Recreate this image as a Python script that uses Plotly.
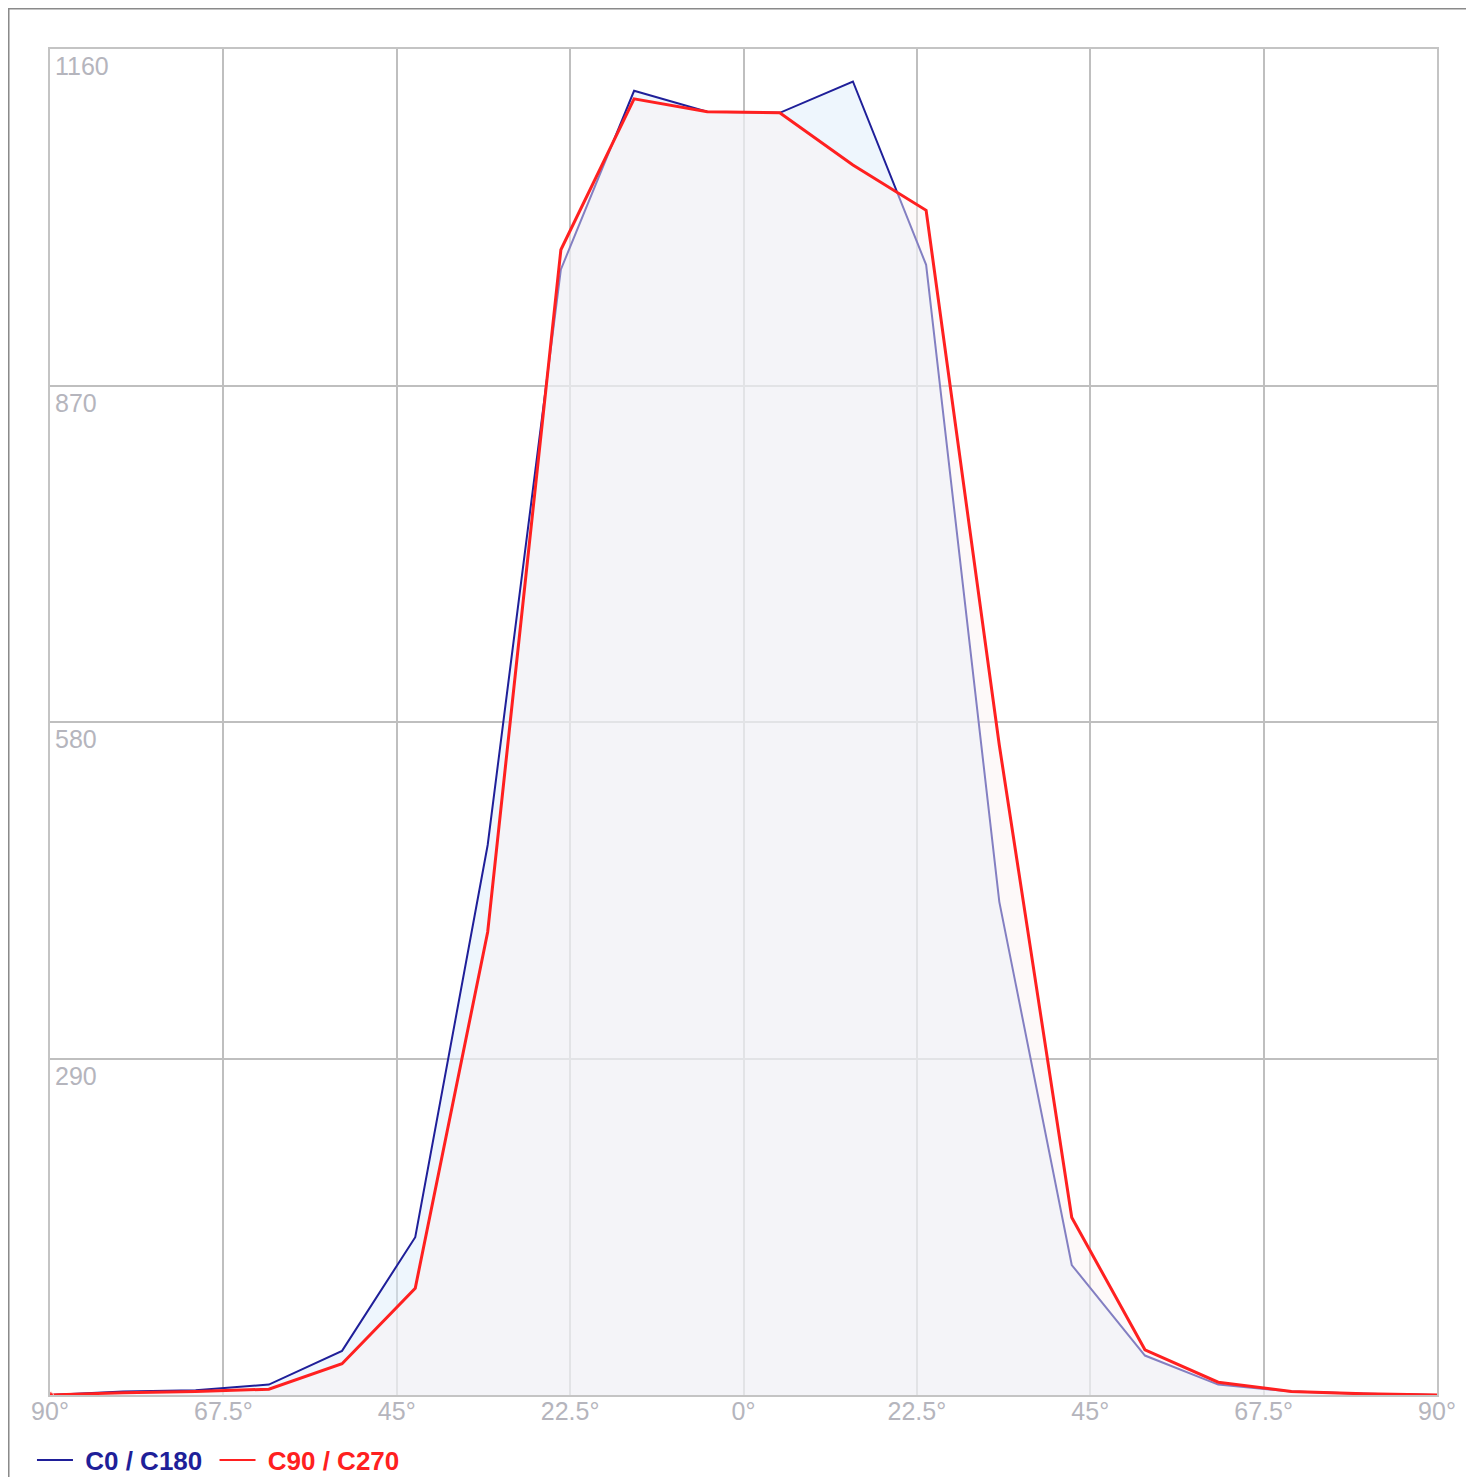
import plotly.graph_objects as go

# Angles (degrees, -90 .. 90) at which the intensity is sampled
angles = [-90.0, -80.5, -71.1, -61.6, -52.1, -42.6, -33.2, -23.7, -14.2, -4.7,
          4.7, 14.2, 23.7, 33.2, 42.6, 52.1, 61.6, 71.1, 80.5, 90.0]

c0_c180 = [0, 3, 4, 9, 38, 136, 474, 970, 1124, 1106,
           1105, 1132, 974, 425, 112, 34, 9, 3, 1, 0]
c90_c270 = [0, 2, 3, 5, 27, 92, 399, 987, 1117, 1106,
            1105, 1060, 1021, 560, 153, 39, 11, 3, 1, 0]

x_tick_vals = [-90, -67.5, -45, -22.5, 0, 22.5, 45, 67.5, 90]
x_tick_text = ["90°", "67.5°", "45°", "22.5°", "0°", "22.5°", "45°", "67.5°", "90°"]
y_tick_vals = [290, 580, 870, 1160]

BLUE = "#1f1f99"
RED = "#ff2020"
TICK_COLOR = "#b5b5bd"
FONT = "Liberation Sans, Arial, sans-serif"

fig = go.Figure()

fig.add_trace(go.Scatter(
    x=angles, y=c0_c180, mode="lines", fill="tozeroy",
    fillcolor="rgba(221,237,251,0.5)",
    line=dict(color=BLUE, width=2), showlegend=False, name="C0 / C180"))

fig.add_trace(go.Scatter(
    x=angles, y=c90_c270, mode="lines+markers", fill="tozeroy",
    fillcolor="rgba(250,242,242,0.46)",
    marker=dict(color=RED, size=[7] + [0] * (len(angles) - 1)),
    line=dict(color=RED, width=3), showlegend=False, name="C90 / C270"))

# legend entries
NB = "\u00a0"
fig.add_trace(go.Scatter(
    x=[None], y=[None], mode="lines", line=dict(color=BLUE, width=2),
    name=f"{NB}<span style='color:{BLUE}'><b>C0 / C180</b></span>{NB}"))
fig.add_trace(go.Scatter(
    x=[None], y=[None], mode="lines", line=dict(color=RED, width=2),
    name=f"{NB}<span style='color:{RED}'><b>C90 / C270</b></span>"))

# y tick labels drawn inside the plot, just below each grid line
annotations = [
    dict(x=0, xref="paper", y=v, yref="y", text=str(v), showarrow=False,
         xanchor="left", yanchor="top", xshift=3, yshift=-1,
         font=dict(family=FONT, size=25, color=TICK_COLOR))
    for v in y_tick_vals
]

GRID = "#bfbfbf"
fig.update_layout(
    width=1466, height=1477,
    margin=dict(l=42, r=37, t=41, b=90),
    paper_bgcolor="white", plot_bgcolor="white",
    font=dict(family=FONT, size=25, color=TICK_COLOR),
    showlegend=True,
    legend=dict(orientation="h", x=-0.013, xanchor="left",
                yref="container", y=0.0169, yanchor="middle",
                font=dict(size=26), bgcolor="rgba(0,0,0,0)", itemwidth=36,
                traceorder="normal", borderwidth=0),
    xaxis=dict(range=[-90, 90], tickvals=x_tick_vals, ticktext=x_tick_text,
               showgrid=True, gridcolor=GRID, gridwidth=1.5, zeroline=False,
               showline=True, linecolor="#c4c4c4", linewidth=2, mirror=True,
               ticks="", ticklabelstandoff=-7,
               tickfont=dict(size=25, color=TICK_COLOR)),
    yaxis=dict(range=[0, 1160], tickvals=y_tick_vals, showticklabels=False,
               showgrid=True, gridcolor=GRID, gridwidth=1.5, zeroline=False,
               showline=True, linecolor="#c4c4c4", linewidth=2, mirror=True,
               ticks=""),
    annotations=annotations,
    shapes=[dict(type="rect", xref="paper", yref="paper",
                 x0=-0.0299, x1=1.2, y0=-0.3, y1=1.0301,
                 line=dict(color="#8a8a8a", width=2), fillcolor="rgba(0,0,0,0)",
                 layer="below")],
)

fig.write_html("out.html")
